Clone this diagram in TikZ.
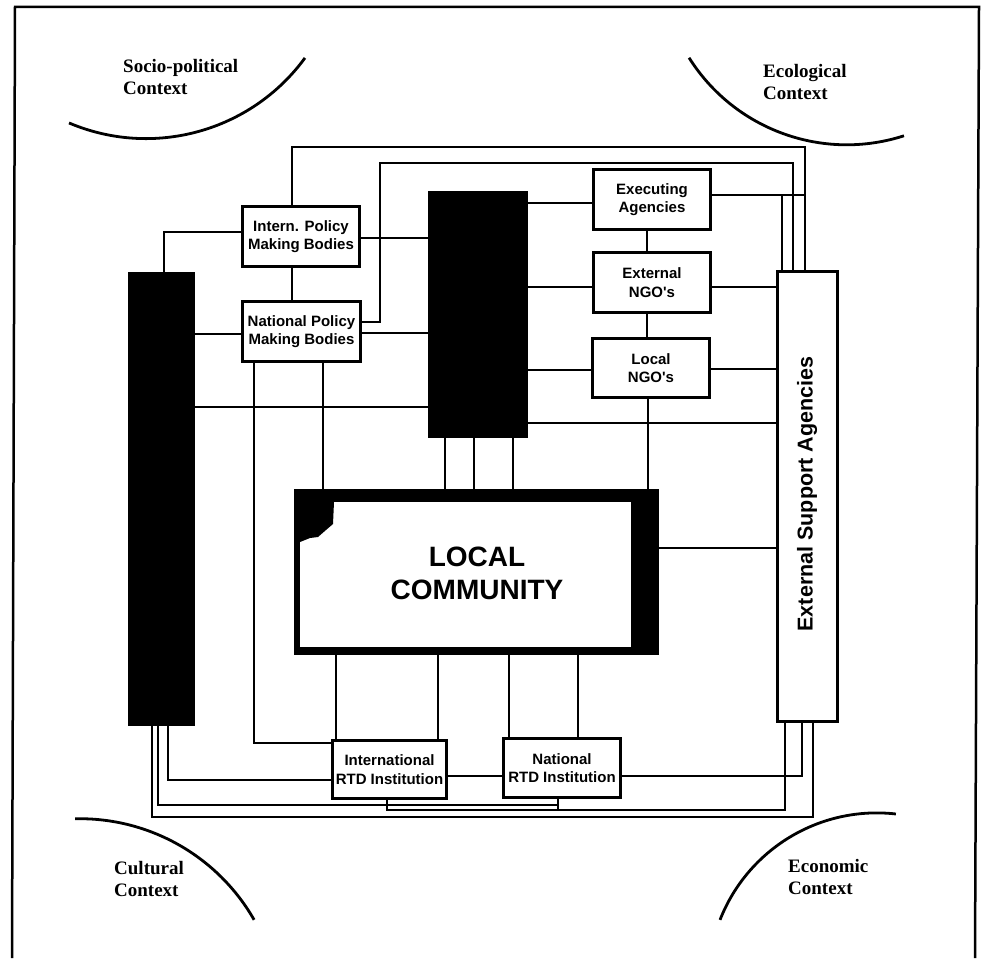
\documentclass[tikz,border=0pt]{standalone}
\usepackage{fontspec}
\setmainfont{Liberation Serif}
\newfontfamily\sansb{Liberation Sans}
\begin{document}
\begin{tikzpicture}[x=1pt,y=-1pt,
  conn/.style={line width=1.9pt},
  arcline/.style={line width=2.8pt},
  sbox/.style={draw,line width=2.8pt,fill=white,inner sep=0pt,align=center,
    font=\sansb\bfseries\fontsize{15}{18.5}\selectfont},
  bar/.style={fill=black,inner sep=0pt},
  ctx/.style={anchor=north west,inner sep=0pt,align=left,
    font=\bfseries\fontsize{19}{22}\selectfont}]
\useasboundingbox (0,0) rectangle (982,958);
% frame
\draw[line width=2.5pt] (12,958) -- (15,7) -- (979,7) -- (975,958);
% context arcs
\draw[arcline] (146,-58.4) ++(113:197) arc (113:36.2:197);
\draw[arcline] (846.7,-41.5) ++(147.8:186.3) arc (147.8:72.1:186.3);
\draw[arcline] (79.7,1019.7) ++(-91.3:201) arc (-91.3:-29.8:201);
\draw[arcline] (876.8,981.3) ++(-158.6:168.4) arc (-158.6:-83.5:168.4);
\node[ctx] (socio) at (123,59) {Socio-political\\Context};
\node[ctx] (eco) at (763,64) {Ecological\\Context};
\node[ctx] (cult) at (114,861) {Cultural\\Context};
\node[ctx] (econ) at (788,859) {Economic\\Context};
% nodes
\node[bar,minimum width=67,minimum height=454] (lbar) at (161.5,499) {};
\node[bar,minimum width=100,minimum height=247] (mbar) at (478,314.5) {};
\node[sbox,minimum width=117,minimum height=60] (ipol) at (301,236.5) {Intern. Policy\\Making Bodies};
\node[sbox,minimum width=118,minimum height=60] (npol) at (301.5,331.5) {National Policy\\Making Bodies};
\node[sbox,minimum width=117,minimum height=60] (exec) at (652,199.5) {Executing\\Agencies};
\node[sbox,minimum width=117,minimum height=60] (engo) at (652,282.5) {External\\NGO's};
\node[sbox,minimum width=117,minimum height=59] (lngo) at (651,368) {Local\\NGO's};
\node[sbox,minimum width=60,minimum height=450] (esa) at (807.5,496.5) {};
\node[rotate=90,inner sep=0pt,font=\sansb\bfseries\fontsize{21.5}{24}\selectfont] (esatext) at (807,494) {External Support Agencies};
\node[sbox,minimum width=114,minimum height=58] (irtd) at (389.5,769.5) {International\\RTD Institution};
\node[sbox,minimum width=117,minimum height=59] (nrtd) at (562,768) {National\\RTD Institution};
% local community
\node[bar,minimum width=365,minimum height=166] (lc) at (476.5,572) {};
\fill[white] (300,502) rectangle (631,647);
\fill[black] (300,502) -- (334,502) -- (333,524) -- (326,530) -- (318,537) -- (310,538) -- (300,542) -- cycle;
\node[inner sep=0pt,align=center,font=\sansb\bfseries\fontsize{28}{33}\selectfont] (lctext) at (477,573.5) {LOCAL\\COMMUNITY};
% connectors, top
\draw[conn] (ipol.north -| 292,0) |- (805,147) -- (esa.north -| 805,0);
\draw[conn] (npol.east |- 0,322) -| (380,163) -| (esa.north -| 793,0);
\draw[conn] (exec.east |- 0,195) -- (805,195);
\draw[conn] (782,195) -- (esa.north -| 782,0);
\draw[conn] (ipol.west |- 0,232) -| (lbar.north -| 164,0);
\draw[conn] (ipol.east |- 0,238) -- (mbar.west |- 0,238);
\draw[conn] (ipol.south -| 292,0) -- (npol.north -| 292,0);
\draw[conn] (npol.west |- 0,334) -- (lbar.east |- 0,334);
\draw[conn] (npol.east |- 0,333) -- (mbar.west |- 0,333);
\draw[conn] (exec.west |- 0,203) -- (mbar.east |- 0,203);
\draw[conn] (exec.south -| 647,0) -- (engo.north -| 647,0);
\draw[conn] (engo.west |- 0,287) -- (mbar.east |- 0,287);
\draw[conn] (engo.east |- 0,287) -- (esa.west |- 0,287);
\draw[conn] (engo.south -| 647,0) -- (lngo.north -| 647,0);
\draw[conn] (lngo.west |- 0,370) -- (mbar.east |- 0,370);
\draw[conn] (lngo.east |- 0,369) -- (esa.west |- 0,369);
\draw[conn] (lbar.east |- 0,407) -- (mbar.west |- 0,407);
\draw[conn] (mbar.east |- 0,423) -- (esa.west |- 0,423);
\draw[conn] (lngo.south -| 648,0) -- (lc.north -| 648,0);
\draw[conn] (npol.south -| 254,0) |- (irtd.west |- 0,743);
\draw[conn] (npol.south -| 323,0) -- (lc.north -| 323,0);
\foreach \xx in {445,474,513} \draw[conn] (mbar.south -| \xx,0) -- (lc.north -| \xx,0);
\draw[conn] (lc.east |- 0,548) -- (esa.west |- 0,548);
% connectors, bottom
\draw[conn] (lc.south -| 336,0) -- (irtd.north -| 336,0);
\draw[conn] (lc.south -| 438,0) -- (irtd.north -| 438,0);
\draw[conn] (lc.south -| 509,0) -- (nrtd.north -| 509,0);
\draw[conn] (lc.south -| 578,0) -- (nrtd.north -| 578,0);
\draw[conn] (irtd.east |- 0,776) -- (nrtd.west |- 0,776);
\draw[conn] (nrtd.east |- 0,776) -| (esa.south -| 802,0);
\draw[conn] (lbar.south -| 168,0) |- (irtd.west |- 0,780);
\draw[conn] (lbar.south -| 158,0) |- (558,805);
\draw[conn] (nrtd.south -| 558,0) -- (558,810);
\draw[conn] (irtd.south -| 387,0) |- (785,810) -- (esa.south -| 785,0);
\draw[conn] (lbar.south -| 152,0) |- (813,817) -- (esa.south -| 813,0);
\end{tikzpicture}
\end{document}
